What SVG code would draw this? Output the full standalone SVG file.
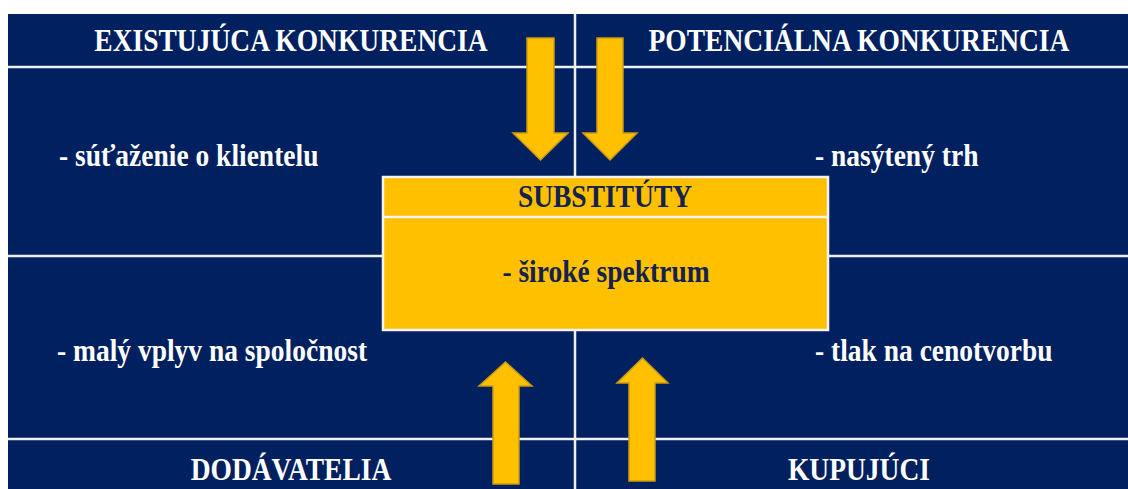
<svg xmlns="http://www.w3.org/2000/svg" width="1128" height="489" viewBox="0 0 1128 489">
  <style>
    .grid { stroke: #EEF0F4; stroke-width: 2.5; fill: none; }
    .t { font-family: 'Liberation Serif', 'DejaVu Serif', 'Times New Roman', serif; font-weight: 700; font-size: 27.5px; }
    .w { fill: #FFFFFF; }
    .inbox { fill: #13224F; }
    .arrow { fill: #FFC000; stroke: #C99A12; stroke-width: 1.5; stroke-linejoin: miter; }
  </style>
  <rect x="0" y="0" width="1128" height="489" fill="#FFFFFF"/>
  <rect x="8" y="14" width="1120" height="475" fill="#00205F"/>
  <g id="grid">
    <line class="grid" x1="575" y1="14" x2="575" y2="489"/>
    <line class="grid" x1="8" y1="67" x2="1128" y2="67"/>
    <line class="grid" x1="8" y1="256" x2="1128" y2="256"/>
    <line class="grid" x1="8" y1="439" x2="1128" y2="439"/>
  </g>
  <g id="existujuca">
    <text class="t w" transform="translate(0,51) scale(1,1.12)" x="291" y="0" text-anchor="middle">EXISTUJÚCA KONKURENCIA</text>
    <text class="t w" transform="translate(0,166) scale(1,1.12)" x="59" y="0">- súťaženie o klientelu</text>
  </g>
  <g id="potencialna">
    <text class="t w" transform="translate(0,51) scale(1,1.12)" x="859" y="0" text-anchor="middle">POTENCIÁLNA KONKURENCIA</text>
    <text class="t w" transform="translate(0,166) scale(1,1.12)" x="815" y="0">- nasýtený trh</text>
  </g>
  <g id="dodavatelia">
    <text class="t w" transform="translate(0,361) scale(1,1.12)" x="57" y="0">- malý vplyv na spoločnost</text>
    <text class="t w" transform="translate(0,480) scale(1,1.12)" x="291" y="0" text-anchor="middle">DODÁVATELIA</text>
  </g>
  <g id="kupujuci">
    <text class="t w" transform="translate(0,361) scale(1,1.12)" x="815" y="0">- tlak na cenotvorbu</text>
    <text class="t w" transform="translate(0,480) scale(1,1.12)" x="859" y="0" text-anchor="middle">KUPUJÚCI</text>
  </g>
  <g id="substituty">
    <rect x="383" y="177" width="445" height="153" fill="#FFC000" stroke="#F4F4F4" stroke-width="2.5"/>
    <line x1="383" y1="217" x2="828" y2="217" stroke="#F4F4F4" stroke-width="2.5"/>
    <text class="t inbox" transform="translate(0,207) scale(1,1.12)" x="605" y="0" text-anchor="middle">SUBSTITÚTY</text>
    <text class="t inbox" transform="translate(0,282) scale(1,1.12)" x="606" y="0" text-anchor="middle">- široké spektrum</text>
  </g>
  <g id="connectors">
    <polygon class="arrow" points="527,38 554,38 554,133 568,133 540.5,160 513,133 527,133"/>
    <polygon class="arrow" points="597,38 623,38 623,133 637,133 610,160 583,133 597,133"/>
    <polygon class="arrow" points="493,484 519,484 519,386 532,386 505.5,362 479,386 493,386"/>
    <polygon class="arrow" points="629,481 655,481 655,383 668,383 642.5,358 617,383 629,383"/>
  </g>
</svg>
